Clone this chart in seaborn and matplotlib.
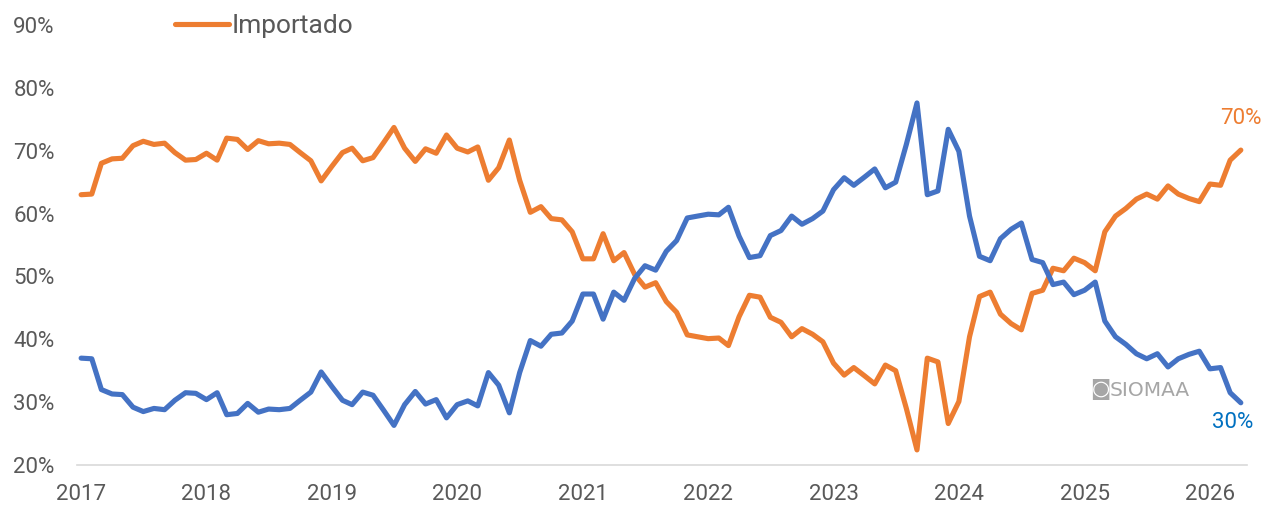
import pandas as pd
import numpy as np
import matplotlib.pyplot as plt
import matplotlib.dates as mdates
from matplotlib.lines import Line2D
from matplotlib.ticker import PercentFormatter
import seaborn as sns

# monthly share (%), Jan 2017 onwards
importado = [
    63.0, 63.1, 68.0, 68.7, 68.8, 70.8, 71.5, 71.0, 71.2, 69.7, 68.5, 68.6,
    69.6, 68.5, 72.0, 71.8, 70.2, 71.6, 71.1, 71.2, 71.0, 69.7, 68.4, 65.2,
    67.5, 69.7, 70.4, 68.4, 68.9, 71.3, 73.7, 70.4, 68.3, 70.3, 69.6, 72.5,
    70.4, 69.8, 70.6, 65.3, 67.3, 71.7, 65.3, 60.2, 61.1, 59.2, 59.0, 57.1,
    52.8, 52.8, 56.8, 52.5, 53.8, 50.3, 48.3, 49.0, 46.0, 44.3, 40.7, 40.4,
    40.1, 40.2, 39.0, 43.6, 47.0, 46.7, 43.5, 42.7, 40.4, 41.7, 40.8, 39.6,
    36.2, 34.3, 35.5, 34.2, 32.9, 35.9, 35.0, 29.0, 22.4, 37.0, 36.4, 26.6,
    30.1, 40.4, 46.8, 47.5, 44.0, 42.5, 41.5, 47.3, 47.8, 51.3, 50.9, 52.9,
    52.2, 50.9, 57.1, 59.6, 60.8, 62.3, 63.1, 62.3, 64.4, 63.1, 62.4, 61.9,
    64.7, 64.5, 68.5, 70.1,
]
nacional = [
    37.0, 36.9, 32.0, 31.3, 31.2, 29.2, 28.5, 29.0, 28.8, 30.3, 31.5, 31.4,
    30.4, 31.5, 28.0, 28.2, 29.8, 28.4, 28.9, 28.8, 29.0, 30.3, 31.6, 34.8,
    32.5, 30.3, 29.6, 31.6, 31.1, 28.7, 26.3, 29.6, 31.7, 29.7, 30.4, 27.5,
    29.6, 30.2, 29.4, 34.7, 32.7, 28.3, 34.7, 39.8, 38.9, 40.8, 41.0, 42.9,
    47.2, 47.2, 43.2, 47.5, 46.2, 49.7, 51.7, 51.0, 54.0, 55.7, 59.3, 59.6,
    59.9, 59.8, 61.0, 56.4, 53.0, 53.3, 56.5, 57.3, 59.6, 58.3, 59.2, 60.4,
    63.8, 65.7, 64.5, 65.8, 67.1, 64.1, 65.0, 71.0, 77.6, 63.0, 63.6, 73.4,
    69.9, 59.6, 53.2, 52.5, 56.0, 57.5, 58.5, 52.7, 52.2, 48.7, 49.1, 47.1,
    47.8, 49.1, 42.9, 40.4, 39.2, 37.7, 36.9, 37.7, 35.6, 36.9, 37.6, 38.1,
    35.3, 35.5, 31.5, 29.9,
]
fechas = pd.date_range("2017-01-01", periods=len(importado), freq="MS")

df = pd.DataFrame({"fecha": fechas, "Importado": importado, "Nacional": nacional})

NARANJA = "#ED7D31"
AZUL = "#4472C4"
GRIS = "#595959"

sns.set_theme(style="white")
plt.rcParams["font.family"] = ["Roboto", "DejaVu Sans"]

fig = plt.figure(figsize=(12.64, 5.07), dpi=100)
ax = fig.add_axes([77 / 1264, 42 / 507, 1170 / 1264, 440 / 507])

line_kw = dict(lw=3.7, solid_capstyle="round", solid_joinstyle="round", legend=False, ax=ax)
sns.lineplot(data=df, x="fecha", y="Importado", color=NARANJA, **line_kw)
sns.lineplot(data=df, x="fecha", y="Nacional", color=AZUL, **line_kw)

ax.set_ylim(20, 90)
ax.set_yticks(range(20, 91, 10))
ax.yaxis.set_major_formatter(PercentFormatter(decimals=0))
ax.set_xlim(fechas[0] - pd.Timedelta(days=12), fechas[-1] + pd.Timedelta(days=18))
ax.xaxis.set_major_locator(mdates.YearLocator())
ax.xaxis.set_major_formatter(mdates.DateFormatter("%Y"))
ax.set_xlabel("")
ax.set_ylabel("")
ax.grid(False)

for s in ["top", "right", "left"]:
    ax.spines[s].set_visible(False)
ax.spines["bottom"].set_color("#D9D9D9")
ax.spines["bottom"].set_linewidth(1.2)

ax.tick_params(axis="y", length=0, pad=16, labelsize=16, labelcolor=GRIS)
ax.tick_params(axis="x", length=0, pad=14, labelsize=16, labelcolor=GRIS)

# end labels
ax.annotate(f"{importado[-1]:.0f}%", xy=(fechas[-1], importado[-1]), xytext=(0, 22.5),
            textcoords="offset points", ha="center", va="center",
            fontsize=16, color=NARANJA)
ax.annotate(f"{nacional[-1]:.0f}%", xy=(fechas[-1], nacional[-1]), xytext=(-6, -14),
            textcoords="offset points", ha="center", va="center",
            fontsize=16, color="#0070C0")

# watermark
fig.text(1100 / 1264, 1 - 390 / 507, "\u25d9", family="DejaVu Sans", fontsize=15,
         color="#A6A6A6", ha="center", va="center")
fig.text(1110 / 1264, 1 - 390 / 507, "SIOMAA", family="DejaVu Sans", fontsize=14.5,
         color="#A6A6A6", ha="left", va="center")

handles = [Line2D([0], [0], color=NARANJA, lw=3.7, solid_capstyle="round")]
fig.legend(handles, ["Importado"], loc="center left",
           bbox_to_anchor=(175 / 1264, 1 - 26 / 507), frameon=False,
           handlelength=2.05, handletextpad=0.1, borderpad=0, borderaxespad=0,
           fontsize=19, labelcolor=GRIS)

fig.savefig("out.png", dpi=100)
